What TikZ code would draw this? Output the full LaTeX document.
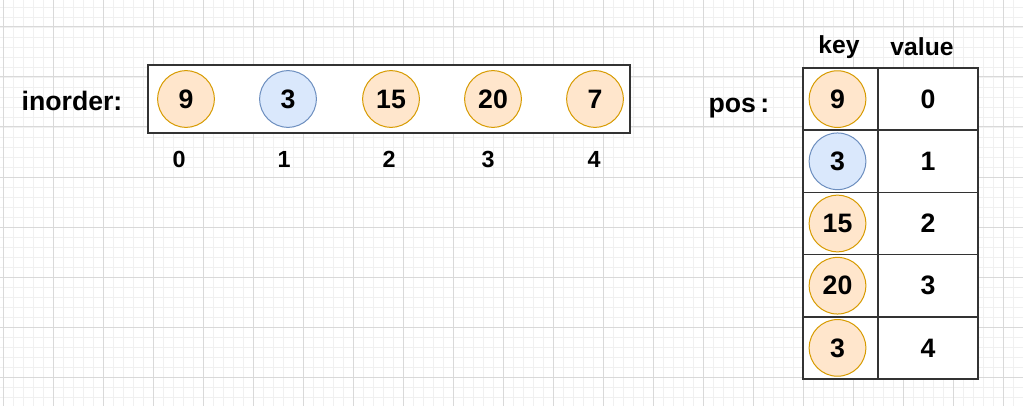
\documentclass[tikz,border=0pt]{standalone}
\usepackage{fontspec}
\setmainfont{Liberation Sans}
\begin{document}
\begin{tikzpicture}[x=0.75pt,y=-0.75pt,
  gminor/.style={draw=black!6,line width=0.6pt},
  gmajor/.style={draw=black!15,line width=0.75pt},
  onode/.style={circle,draw={rgb,255:red,215;green,155;blue,0},fill={rgb,255:red,255;green,230;blue,204},line width=0.75pt,minimum size=42.5pt,inner sep=0pt,font=\fontsize{20}{24}\bfseries},
  bnode/.style={circle,draw={rgb,255:red,108;green,142;blue,191},fill={rgb,255:red,218;green,232;blue,252},line width=0.75pt,minimum size=42.5pt,inner sep=0pt,font=\fontsize{20}{24}\bfseries},
  lbl/.style={font=\fontsize{20}{24}\bfseries,inner sep=0pt},
  idx/.style={font=\fontsize{17.5}{21}\bfseries,inner sep=0pt},
  hdr/.style={font=\fontsize{18.5}{22}\bfseries,inner sep=0pt},
  keycell/.style={draw={rgb,255:red,51;green,51;blue,51},fill=white,line width=1.1pt,minimum width=56.25pt,minimum height=46.7pt,inner sep=0pt},
  valcell/.style={draw={rgb,255:red,51;green,51;blue,51},fill=white,line width=1.1pt,minimum width=75pt,minimum height=46.7pt,inner sep=0pt,font=\fontsize{20}{24}\bfseries},
  box/.style={draw={rgb,255:red,51;green,51;blue,51},line width=1.1pt,fill=white}]
\useasboundingbox (0,0) rectangle (1023,406);
\fill[white] (0,0) rectangle (1023,406);
\foreach \i in {0,...,102} \draw[gminor] ({3+10*\i},0) -- ({3+10*\i},406);
\foreach \j in {0,...,40} \draw[gminor] (0,{7+10*\j}) -- (1023,{7+10*\j});
\foreach \i in {0,...,20} \draw[gmajor] ({3+50*\i},0) -- ({3+50*\i},406);
\foreach \j in {0,...,7} \draw[gmajor] (0,{27+50*\j}) -- (1023,{27+50*\j});

% inorder array
\node[lbl] (inlab) at (72,101) {inorder:};
\draw[box] (148,65) rectangle (630,133);
\node[onode] (a0) at (186,99) {9};
\node[bnode] (a1) at (288,99) {3};
\node[onode] (a2) at (391,99) {15};
\node[onode] (a3) at (493,99) {20};
\node[onode] (a4) at (595,99) {7};
\node[idx] (i0) at (179,159) {0};
\node[idx] (i1) at (284,159) {1};
\node[idx] (i2) at (389,159) {2};
\node[idx] (i3) at (488,159) {3};
\node[idx] (i4) at (594,159) {4};

% pos table
\node[lbl] (poslab) at (739,108) {pos\,:};
\node[hdr] (keyh) at (839,47) {key};
\node[hdr] (valh) at (922,47) {value};
\foreach \r/\k/\v/\s in {0/9/0/onode,1/3/1/bnode,2/15/2/onode,3/20/3/onode,4/3/4/onode}{
  \node[keycell] (k\r) at (840.5,{99.1+62.2*\r}) {};
  \node[valcell] (v\r) at (928,{99.1+62.2*\r}) {\v};
  \node[\s] (c\r) at (837.5,{99.1+62.2*\r}) {\k};
}
\end{tikzpicture}
\end{document}
